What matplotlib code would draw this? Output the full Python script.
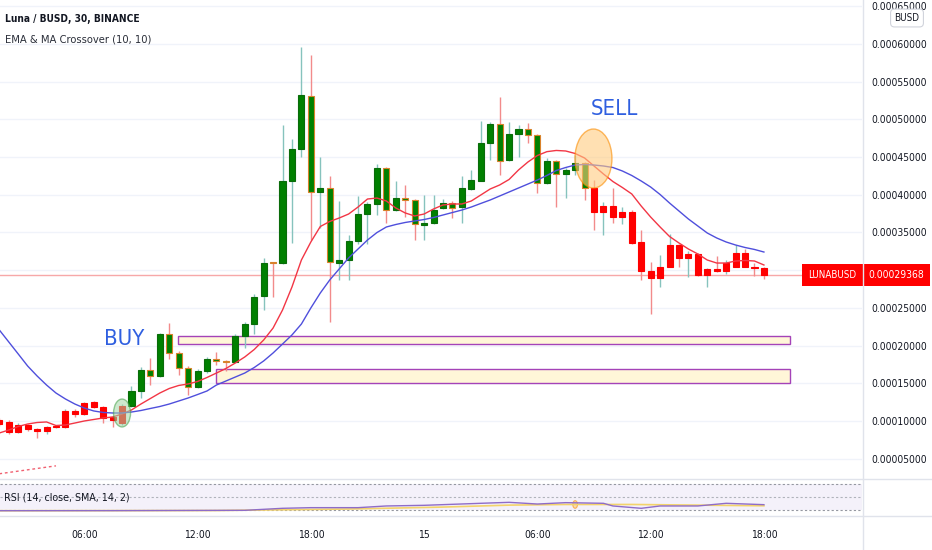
import matplotlib
matplotlib.use('Agg')
import matplotlib.pyplot as plt
from matplotlib.patches import Rectangle, Ellipse
from matplotlib.lines import Line2D
from matplotlib import font_manager
import numpy as np

fl = font_manager.fontManager.ttflist
names = {f.name for f in fl}
if 'Liberation Sans Narrow' in names:
    FAM = 'Liberation Sans Narrow'
else:
    FAM = 'Liberation Sans'
    if any(f.name == 'DejaVu Sans' and f.stretch in ('condensed', 'semi-condensed') for f in fl):
        FAM = 'DejaVu Sans'
        plt.rcParams['font.stretch'] = 'condensed'
plt.rcParams['font.family'] = [FAM, 'DejaVu Sans']

SCALE = 1e-5  # values below are in units of 0.00001 BUSD

# ---------------- data ----------------
candle_idx = list(range(3, 85))   # 30-minute candles counted from 14th 00:00
opens = [10.13, 9.91, 8.58, 9.47, 8.90, 8.67, 9.20, 9.24, 11.33, 10.93, 12.48, 11.89, 10.49, 9.69,
         11.99, 14.02, 16.76, 15.97, 21.54, 19.06, 17.07, 14.55, 16.63, 18.22, 17.89, 17.86, 21.31,
         22.86, 26.58, 31.02, 30.91, 41.87, 46.03, 53.10, 40.41, 40.86, 30.99, 31.35, 33.91, 37.45,
         38.78, 43.51, 37.98, 39.62, 39.31, 35.99, 36.22, 38.21, 38.95, 38.34, 40.77, 41.87, 46.83,
         49.39, 44.62, 48.06, 48.69, 47.93, 41.52, 44.48, 42.76, 43.29, 44.18, 40.86, 37.68, 38.55,
         37.02, 37.76, 33.78, 29.93, 28.93, 30.46, 33.34, 31.66, 32.11, 29.36, 30.12, 29.93, 30.46,
         32.24, 30.46, 30.25]
highs = [10.40, 10.13, 9.73, 9.60, 9.07, 9.34, 9.47, 11.59, 11.55, 12.56, 12.65, 12.05, 10.66, 12.25,
         14.64, 17.20, 18.35, 21.67, 22.98, 19.28, 17.30, 16.89, 18.53, 19.19, 18.09, 21.54, 23.13,
         26.84, 31.62, 31.09, 49.26, 47.44, 59.56, 58.54, 44.97, 42.49, 39.18, 34.67, 39.84, 39.04,
         44.08, 43.69, 41.87, 41.30, 39.44, 39.97, 39.97, 39.44, 39.18, 42.49, 43.29, 49.83, 49.65,
         52.93, 49.69, 49.26, 49.48, 48.06, 44.88, 44.62, 43.55, 45.28, 44.35, 41.96, 39.08, 40.86,
         38.34, 37.98, 35.33, 31.13, 32.01, 34.80, 33.47, 32.55, 32.28, 30.29, 31.88, 31.39, 33.34,
         32.81, 31.00, 30.42]
lows = [9.34, 8.28, 8.41, 8.67, 7.78, 8.24, 9.07, 9.13, 10.57, 10.86, 11.72, 9.69, 9.16, 9.47,
        11.86, 13.05, 14.77, 15.84, 18.18, 16.10, 13.45, 14.38, 16.37, 17.43, 16.67, 17.76, 19.68,
        21.54, 24.72, 26.48, 30.82, 33.57, 45.05, 34.00, 35.56, 23.17, 28.70, 28.70, 33.47, 33.47,
        37.32, 36.22, 37.85, 37.10, 34.00, 34.00, 36.13, 38.12, 36.92, 36.22, 40.64, 41.83, 44.62,
        42.63, 44.48, 45.05, 46.83, 40.20, 41.43, 38.42, 39.54, 42.63, 39.31, 35.33, 34.67, 36.22,
        36.13, 33.47, 28.70, 24.19, 27.73, 30.42, 30.46, 29.06, 29.23, 27.73, 29.76, 29.50, 30.42,
        30.36, 29.23, 28.79]
closes = [9.60, 8.58, 9.47, 8.90, 8.63, 9.16, 9.27, 11.37, 10.93, 12.35, 11.89, 10.35, 10.13, 11.99,
          14.02, 16.76, 15.97, 21.54, 19.06, 17.07, 14.55, 16.63, 18.22, 17.96, 17.76, 21.27, 22.82,
          26.48, 30.91, 30.95, 41.87, 46.03, 53.24, 40.33, 40.86, 31.05, 31.35, 33.91, 37.45, 38.78,
          43.51, 37.98, 39.54, 39.31, 36.09, 36.22, 37.98, 38.95, 38.29, 40.86, 41.96, 46.83, 49.39,
          44.52, 48.06, 48.69, 47.93, 41.60, 44.48, 42.76, 43.29, 44.18, 40.86, 37.68, 38.55, 37.02,
          37.68, 33.65, 29.93, 28.93, 30.46, 33.34, 31.66, 32.11, 29.36, 30.16, 29.89, 30.99, 32.24,
          30.46, 30.25, 29.368]
ema10 = [8.41, 8.80, 9.27, 9.60, 9.80, 9.87, 9.40, 9.47, 9.73, 10.00, 10.20, 10.40, 10.53, 10.93,
         11.46, 12.25, 12.98, 13.71, 14.31, 14.71, 14.91, 15.24, 15.77, 16.36, 16.96, 17.69, 18.49,
         19.48, 20.74, 22.33, 24.72, 27.77, 31.35, 33.74, 35.79, 36.46, 36.92, 37.45, 38.38, 39.44,
         39.57, 39.18, 38.25, 37.59, 37.19, 37.45, 38.12, 38.65, 38.78, 38.78, 39.18, 39.97, 40.77,
         41.30, 42.03, 43.29, 44.35, 45.21, 45.72, 45.88, 45.81, 45.48, 44.88, 43.82, 42.76, 41.76,
         40.97, 40.11, 38.51, 37.05, 35.73, 34.47, 33.61, 32.81, 32.15, 31.35, 30.95, 30.95, 31.22,
         31.29, 31.22, 30.69]
ma10 = [22.07, 20.48, 18.89, 17.29, 15.97, 14.77, 13.71, 12.92, 12.25, 11.72, 11.33, 11.13, 11.06,
        11.06, 11.19, 11.39, 11.66, 11.92, 12.25, 12.65, 13.05, 13.51, 13.98, 14.77, 15.30, 15.83,
        16.36, 17.09, 17.96, 19.02, 20.21, 21.41, 22.86, 24.99, 26.97, 28.70, 30.16, 31.62, 32.81,
        34.00, 34.99, 35.73, 36.06, 36.33, 36.53, 36.72, 36.99, 37.32, 37.65, 37.98, 38.38, 38.85,
        39.31, 39.84, 40.37, 40.90, 41.43, 41.96, 42.56, 43.22, 43.62, 43.95, 44.02, 43.95, 43.82,
        43.62, 43.16, 42.56, 41.83, 41.03, 40.04, 38.91, 37.85, 36.79, 35.86, 34.93, 34.27, 33.74,
        33.34, 33.01, 32.75, 32.41]
buy_idx = 16
sell_idx = 65
last_price = 29.368

zone_start = [21.9, 26.0]
zone_end = [86.8, 86.8]
zone_low = [20.21, 15.08]
zone_high = [21.27, 16.85]

aux_x = [3, 9]
aux_y = [3.0, 4.05]

rsi_x = [3, 15, 29, 33, 36, 41, 44, 48, 54, 57, 60, 63, 67, 68, 71, 73, 77, 80, 84]
rsi_v = [28.9, 29.0, 29.5, 32.6, 33.6, 33.6, 36.2, 37.2, 40.3, 41.8, 39.2, 41.3, 40.3, 36.2,
         32.6, 36.2, 36.2, 40.3, 38.2]
rsi_sma_x = [3, 26, 40, 50, 57, 63, 70, 77, 84]
rsi_sma_v = [28.9, 29.2, 31.5, 34.5, 37.5, 38.5, 38.5, 37.5, 36.5]

price_ticks = [5, 10, 15, 20, 25, 35, 40, 45, 50, 55, 60, 65]
time_tick_idx = [12, 24, 36, 48, 60, 72, 84]
time_tick_labels = ['06:00', '12:00', '18:00', '15', '06:00', '12:00', '18:00']

# ---------------- figure ----------------
W, H = 932, 550
fig = plt.figure(figsize=(W / 100, H / 100), dpi=100)
fig.patch.set_facecolor('white')
renderer = fig.canvas.get_renderer()


def fit(text, target_px, weight='normal', cap=None):
    """font size (pt) giving the text the wanted pixel width"""
    t = fig.text(0, 0, text, fontsize=10, fontweight=weight)
    w = t.get_window_extent(renderer).width
    t.remove()
    s = 10 * target_px / w
    return min(s, cap) if cap else s


ax = fig.add_axes([0, 71 / H, 862 / W, 479 / H])
rax = fig.add_axes([0, 34 / H, 862 / W, 37 / H], sharex=ax)

XMIN, XMAX = 3.07, 94.39
ax.set_xlim(XMIN, XMAX)
ax.set_ylim(2.306 * SCALE, 65.836 * SCALE)

TXT = '#131722'
for s in ax.spines.values():
    s.set_visible(False)
for s in rax.spines.values():
    s.set_visible(False)

# grid
for p in range(5, 70, 5):
    ax.axhline(p * SCALE, color='#f0f3fa', lw=1, zorder=0)

# zones
for xs, xe, lo, hi in zip(zone_start, zone_end, zone_low, zone_high):
    ax.add_patch(Rectangle((xs, lo * SCALE), xe - xs, (hi - lo) * SCALE,
                           facecolor='#fff6d8', edgecolor='#a443b8', lw=1, zorder=1))

# current price line
ax.axhline(last_price * SCALE, color='#f7a8a8', lw=1, zorder=1)

# aux dotted line
ax.plot(aux_x, np.array(aux_y) * SCALE, color='#f06070', lw=1, ls=(0, (2, 2)), zorder=2)

# candles
BW = 0.64
for i, o, h, l, c in zip(candle_idx, opens, highs, lows, closes):
    up = c >= o
    bull_zone = buy_idx < i <= sell_idx
    wick = '#86c3bd' if up else '#f28b8b'
    ax.vlines(i, l * SCALE, h * SCALE, color=wick, lw=1, zorder=3)
    if bull_zone:
        fc = '#008000'
        ec = '#0a6b0a' if up else '#d9822b'
    else:
        fc = '#ff0000'
        ec = '#ff0000'
    lo = min(o, c)
    hgt = max(abs(c - o), 0.18)
    ax.add_patch(Rectangle((i - BW / 2, lo * SCALE), BW, hgt * SCALE,
                           facecolor=fc, edgecolor=ec, lw=0.8, zorder=4))

# moving averages
ax.plot(candle_idx, np.array(ema10) * SCALE, color='#f23645', lw=1, zorder=5)
ax.plot(candle_idx, np.array(ma10) * SCALE, color='#4f4fdc', lw=1, zorder=5)

# signal ellipses
ax.add_patch(Ellipse((buy_idx, ma10[candle_idx.index(buy_idx)] * SCALE), 1.8, 3.7 * SCALE,
                     facecolor='#a5d6a7', edgecolor='#43a047', alpha=0.55, lw=1, zorder=6))
ax.add_patch(Ellipse((sell_idx + 0.94, 44.81 * SCALE), 3.92, 7.83 * SCALE,
                     facecolor='#ffcc80', edgecolor='#fb8c00', alpha=0.6, lw=1, zorder=6))

sig_size = fit('BUY', 40)
ax.text(buy_idx + 0.2, 20.87 * SCALE, 'BUY', color='#2f5fe0', fontsize=sig_size,
        ha='center', va='center', zorder=7)
ax.text(sell_idx + 3.2, 51.38 * SCALE, 'SELL', color='#2f5fe0', fontsize=sig_size,
        ha='center', va='center', zorder=7)

# titles
ax.text(5 / 862, 1 - 19 / 479, 'Luna / BUSD, 30, BINANCE', transform=ax.transAxes,
        fontsize=fit('Luna / BUSD, 30, BINANCE', 134, 'bold', 9.5), fontweight='bold',
        color=TXT, ha='left', va='center')
ax.text(5 / 862, 1 - 39 / 479, 'EMA & MA Crossover (10, 10)', transform=ax.transAxes,
        fontsize=fit('EMA & MA Crossover (10, 10)', 148, cap=9.5), color='#2a2e39',
        ha='left', va='center')

# price axis
psize = fit('0.00060000', 56, cap=9)
ax.yaxis.tick_right()
ax.set_yticks([p * SCALE for p in price_ticks])
ax.set_yticklabels([f'{p * SCALE:.8f}' for p in price_ticks])
ax.tick_params(axis='y', length=0, pad=7, labelsize=psize, labelcolor=TXT)
ax.tick_params(axis='x', bottom=False, labelbottom=False)

# current price labels
ax.text(1.0 + 6 / 862, last_price * SCALE, f'{last_price * SCALE:.8f}',
        transform=ax.get_yaxis_transform(), ha='left', va='center', color='white', fontsize=psize,
        bbox=dict(boxstyle='square,pad=0.62', fc='#ff0000', ec='none'), zorder=10, clip_on=False)
ax.text(1.0 - 6 / 862, last_price * SCALE, 'LUNABUSD',
        transform=ax.get_yaxis_transform(), ha='right', va='center', color='white',
        fontsize=fit('LUNABUSD', 48, cap=8.5),
        bbox=dict(boxstyle='square,pad=0.65', fc='#ff0000', ec='none'), zorder=10, clip_on=False)

# BUSD box
fig.text(907 / W, 1 - 18 / H, 'BUSD', ha='center', va='center', fontsize=fit('BUSD', 25, cap=8),
         color=TXT, bbox=dict(boxstyle='round,pad=0.4', fc='white', ec='#d1d4dc', lw=0.8),
         zorder=20)

# RSI pane
RTOP, RBOT = 77.69, 20.77
rax.set_ylim(RBOT, RTOP)
rax.axhspan(30, 70, color='#7e57c2', alpha=0.08, lw=0)
for lvl, col in [(70, '#9598a1'), (50, '#b0b3bb'), (30, '#9598a1')]:
    rax.axhline(lvl, color=col, lw=0.8, ls=(0, (2, 2)))
rax.plot(rsi_sma_x, rsi_sma_v, color='#f3d36b', lw=1.2)
rax.plot(rsi_x, rsi_v, color='#8e6cc8', lw=1)
rax.add_patch(Ellipse((64, 38.5), 0.5, 11.7, facecolor='#ffcc80', edgecolor='#fb8c00',
                      alpha=0.6, lw=0.8))
rax.text(4 / 862, 0.5, 'RSI (14, close, SMA, 14, 2)', transform=rax.transAxes,
         fontsize=fit('RSI (14, close, SMA, 14, 2)', 126, cap=8.5), color=TXT,
         ha='left', va='center')
rax.set_yticks([])
rax.set_xticks(time_tick_idx)
rax.set_xticklabels(time_tick_labels)
rax.tick_params(axis='x', length=0, pad=10, labelsize=fit('06:00', 27, cap=9), labelcolor=TXT)

# separators
fig.add_artist(Line2D([862.5 / W, 862.5 / W], [0, 1], color='#e0e3eb', lw=1))
fig.add_artist(Line2D([0, 1], [1 - 479 / H, 1 - 479 / H], color='#e0e3eb', lw=1))
fig.add_artist(Line2D([0, 1], [1 - 516 / H, 1 - 516 / H], color='#e0e3eb', lw=1))

fig.savefig('out.png', dpi=100, facecolor='white')
